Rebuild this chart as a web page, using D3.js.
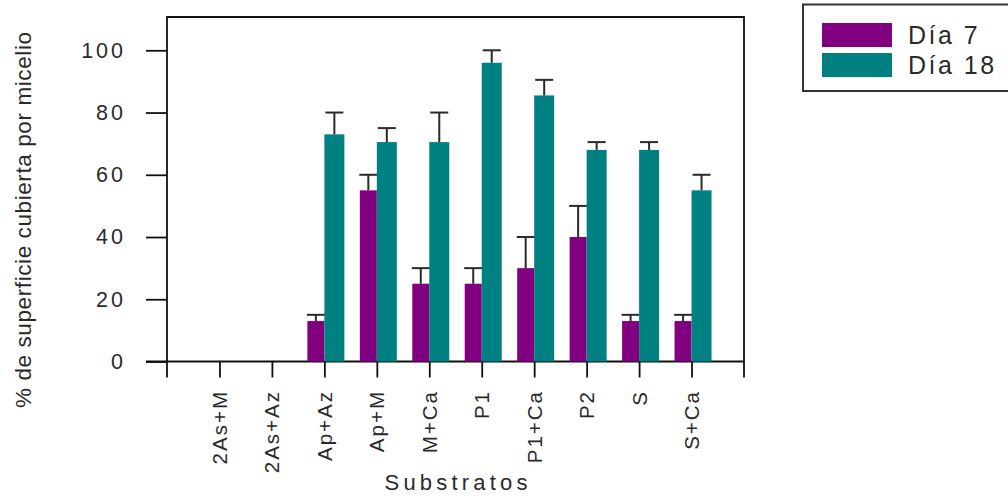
<!DOCTYPE html>
<html>
<head>
<meta charset="utf-8">
<script src="https://cdn.jsdelivr.net/npm/d3@7"></script>
<style>
  html, body { margin: 0; padding: 0; background: #fff; }
  svg { display: block; font-family: "Liberation Sans", Arial, sans-serif; }
</style>
</head>
<body>
<svg id="chart" width="1008" height="498"></svg>
<script>
// Substrates and mycelium coverage (%) at day 7 and day 18, with error bars
const categories = ["2As+M", "2As+Az", "Ap+Az", "Ap+M", "M+Ca", "P1", "P1+Ca", "P2", "S", "S+Ca"];
const dia7     = [0, 0, 13, 55, 25, 25, 30, 40, 13, 13];
const dia7Err  = [0, 0, 2, 5, 5, 5, 10, 10, 2, 2];
const dia18    = [0, 0, 73, 70.5, 70.5, 96, 85.5, 68, 68, 55];
const dia18Err = [0, 0, 7, 4.5, 9.5, 4, 5, 2.5, 2.5, 5];
const yTicks = [0, 20, 40, 60, 80, 100];
const seriesNames = ["Día 7", "Día 18"];
const seriesColors = ["#800080", "#008080"];

const svg = d3.select("#chart");
const frame = { left: 167, right: 744, top: 17, bottom: 361.5 };
const stub = 16;            // ticks and frame sides extend below the axis
const axisColor = "#111";
const textColor = "#2a2a2a";

const x = d3.scalePoint().domain(categories).range([frame.left, frame.right]).padding(1);
const y = d3.scaleLinear().domain([0, 110.7]).range([frame.bottom, frame.top]);

// frame
const g = svg.append("g");
g.append("path")
  .attr("d", `M${frame.left},${frame.bottom + stub}V${frame.top}H${frame.right}V${frame.bottom + stub}`)
  .attr("fill", "none").attr("stroke", axisColor).attr("stroke-width", 1.8);
g.append("line")
  .attr("x1", frame.left - 21).attr("x2", frame.right)
  .attr("y1", frame.bottom).attr("y2", frame.bottom)
  .attr("stroke", axisColor).attr("stroke-width", 1.8);

// y axis
const yAxis = svg.append("g")
  .attr("transform", `translate(${frame.left},0)`)
  .call(d3.axisLeft(y).tickValues(yTicks).tickSize(21).tickPadding(20).tickFormat(d3.format("d")));
yAxis.select(".domain").remove();
yAxis.selectAll(".tick line").attr("stroke", axisColor).attr("stroke-width", 1.8);
yAxis.selectAll(".tick text")
  .attr("fill", textColor).style("font-size", "21.5px").style("letter-spacing", "3px")
  .attr("font-family", null);

// x axis ticks and category labels
const xAxis = svg.append("g")
  .attr("transform", `translate(0,${frame.bottom})`)
  .call(d3.axisBottom(x).tickSize(stub).tickFormat(""));
xAxis.select(".domain").remove();
xAxis.selectAll(".tick line").attr("stroke", axisColor).attr("stroke-width", 1.8);

svg.append("g").selectAll("text")
  .data(categories)
  .join("text")
  .attr("transform", d => `translate(${x(d) + 7.5},390) rotate(-90)`)
  .attr("text-anchor", "end")
  .attr("fill", textColor)
  .style("font-size", "20.5px")
  .style("letter-spacing", "2px")
  .text(d => d);

// bars
const barSpec = [
  { values: dia7, errs: dia7Err, x0: -17, w: 17, color: seriesColors[0] },
  { values: dia18, errs: dia18Err, x0: 0, w: 20, color: seriesColors[1] }
];
barSpec.forEach(s => {
  const rows = categories.map((c, i) => ({ c, v: s.values[i], e: s.errs[i] })).filter(r => r.v > 0);
  const bg = svg.append("g");
  bg.selectAll("rect").data(rows).join("rect")
    .attr("x", r => x(r.c) + s.x0)
    .attr("width", s.w)
    .attr("y", r => y(r.v))
    .attr("height", r => y(0) - y(r.v))
    .attr("fill", s.color);
  const eg = svg.append("g").attr("stroke", "#2a2a2a").attr("stroke-width", 2);
  rows.forEach(r => {
    const cx = x(r.c) + s.x0 + s.w / 2;
    eg.append("line").attr("x1", cx).attr("x2", cx).attr("y1", y(r.v)).attr("y2", y(r.v + r.e));
    eg.append("line").attr("x1", cx - 9).attr("x2", cx + 9).attr("y1", y(r.v + r.e)).attr("y2", y(r.v + r.e));
  });
});

// axis titles
svg.append("text")
  .attr("transform", `translate(31,220) rotate(-90)`)
  .attr("text-anchor", "middle")
  .attr("fill", textColor)
  .style("font-size", "22.5px")
  .attr("textLength", 376).attr("lengthAdjust", "spacing")
  .text("% de superficie cubierta por micelio");

svg.append("text")
  .attr("x", 456).attr("y", 490)
  .attr("text-anchor", "middle")
  .attr("fill", textColor)
  .style("font-size", "22px")
  .attr("textLength", 143).attr("lengthAdjust", "spacing")
  .text("Substratos");

// legend
const legend = svg.append("g");
legend.append("rect")
  .attr("x", 803).attr("y", 4.5).attr("width", 220).attr("height", 86.5)
  .attr("fill", "#fff").attr("stroke", "#333").attr("stroke-width", 2);
seriesNames.forEach((name, i) => {
  legend.append("rect")
    .attr("x", 822).attr("y", 23 + i * 30).attr("width", 70).attr("height", 24)
    .attr("fill", seriesColors[i]);
  legend.append("text")
    .attr("x", 908).attr("y", 44 + i * 30)
    .attr("fill", textColor)
    .style("font-size", "25px")
    .style("letter-spacing", "2.5px")
    .text(name);
});
</script>
</body>
</html>
